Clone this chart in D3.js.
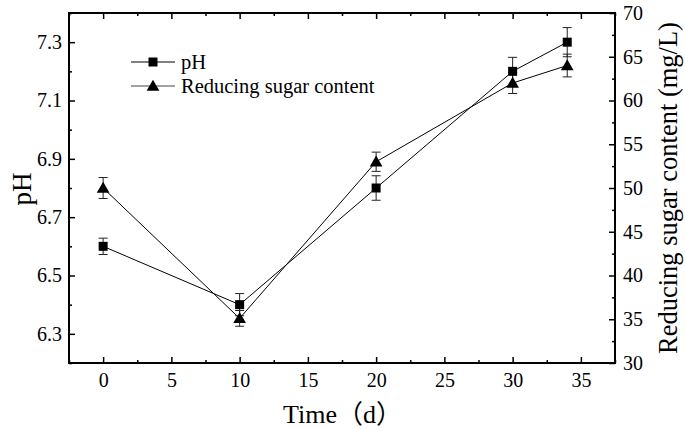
<!DOCTYPE html>
<html><head><meta charset="utf-8">
<script src="https://cdn.jsdelivr.net/npm/d3@7"></script>
<style>body{margin:0;background:#fff}svg{display:block}text{font-family:"Liberation Serif","Times New Roman",serif;fill:#000}</style>
</head><body><svg id="c" width="685" height="430"></svg>
<script>
const days = [0, 10, 20, 30, 34];
const phValues = [6.6, 6.4, 6.8, 7.2, 7.3];
const phErrors = [0.028, 0.038, 0.042, 0.048, 0.05];
const sugarValues = [50.0, 35.1, 53.0, 62.0, 64.0];
const sugarErrors = [1.2, 0.9, 1.1, 1.2, 1.3];
const xTicks = [0, 5, 10, 15, 20, 25, 30, 35];
const phTicks = [6.3, 6.5, 6.7, 6.9, 7.1, 7.3];
const sugarTicks = [30, 35, 40, 45, 50, 55, 60, 65, 70];
const seriesNames = ["pH", "Reducing sugar content"];

const svg = d3.select("#c");
const L = 69, R = 615, T = 13, B = 363;
const x = d3.scaleLinear().domain([-2.5, 37.5]).range([L, R]);
const yPh = d3.scaleLinear().domain([6.2, 7.4]).range([B, T]);
const yS = d3.scaleLinear().domain([30, 70]).range([B, T]);

const minorX = d3.range(-2.5, 37.6, 2.5).filter(v => !xTicks.includes(v));
const minorPh = d3.range(6.2, 7.41, 0.1).map(v => +v.toFixed(1)).filter(v => !phTicks.includes(v));
const minorS = d3.range(30, 70.1, 2.5).filter(v => !sugarTicks.includes(v));

const fmt1 = d3.format(".1f");
svg.append("g").attr("transform", `translate(0,${B})`)
  .call(d3.axisBottom(x).tickValues(xTicks).tickSizeInner(-6).tickSizeOuter(0).tickPadding(10));
svg.append("g").attr("transform", `translate(0,${B})`)
  .call(d3.axisBottom(x).tickValues(minorX).tickSizeInner(-3).tickSizeOuter(0).tickFormat(""));
svg.append("g").attr("transform", `translate(0,${T})`)
  .call(d3.axisTop(x).tickValues(xTicks).tickSizeInner(-6).tickSizeOuter(0).tickFormat(""));
svg.append("g").attr("transform", `translate(0,${T})`)
  .call(d3.axisTop(x).tickValues(minorX).tickSizeInner(-3).tickSizeOuter(0).tickFormat(""));
svg.append("g").attr("transform", `translate(${L},0)`)
  .call(d3.axisLeft(yPh).tickValues(phTicks).tickFormat(fmt1).tickSizeInner(-6).tickSizeOuter(0).tickPadding(7));
svg.append("g").attr("transform", `translate(${L},0)`)
  .call(d3.axisLeft(yPh).tickValues(minorPh).tickFormat("").tickSizeInner(-3).tickSizeOuter(0));
svg.append("g").attr("transform", `translate(${R},0)`)
  .call(d3.axisRight(yS).tickValues(sugarTicks).tickSizeInner(-6).tickSizeOuter(0).tickPadding(8));
svg.append("g").attr("transform", `translate(${R},0)`)
  .call(d3.axisRight(yS).tickValues(minorS).tickFormat("").tickSizeInner(-3).tickSizeOuter(0));

svg.selectAll(".domain").remove();
svg.selectAll(".tick line").attr("stroke", "#000").attr("stroke-width", 1.5);
svg.selectAll(".tick text").style("font-size", "20px").attr("fill", "#000");

svg.append("rect").attr("x", L).attr("y", T).attr("width", R - L).attr("height", B - T)
  .attr("fill", "none").attr("stroke", "#000").attr("stroke-width", 2);

const linePh = d3.line().x((d, i) => x(days[i])).y(d => yPh(d));
const lineS = d3.line().x((d, i) => x(days[i])).y(d => yS(d));
svg.append("path").attr("d", linePh(phValues)).attr("fill", "none").attr("stroke", "#000").attr("stroke-width", 1);
svg.append("path").attr("d", lineS(sugarValues)).attr("fill", "none").attr("stroke", "#000").attr("stroke-width", 1);

function errBars(vals, errs, y) {
  const g = svg.append("g").attr("stroke", "#222").attr("stroke-width", 1);
  vals.forEach((v, i) => {
    const cx = x(days[i]);
    g.append("line").attr("x1", cx).attr("x2", cx).attr("y1", y(v - errs[i])).attr("y2", y(v + errs[i]));
    [v - errs[i], v + errs[i]].forEach(e => g.append("line").attr("x1", cx - 4.5).attr("x2", cx + 4.5).attr("y1", y(e)).attr("y2", y(e)));
  });
}
errBars(phValues, phErrors, yPh);
errBars(sugarValues, sugarErrors, yS);

const sq = d3.symbol().type(d3.symbolSquare).size(81);
const tri = d3.symbol().type(d3.symbolTriangle).size(70);
svg.append("g").selectAll("path").data(phValues).join("path").attr("d", sq)
  .attr("transform", (d, i) => `translate(${x(days[i])},${yPh(d)})`).attr("fill", "#000");
svg.append("g").selectAll("path").data(sugarValues).join("path").attr("d", tri)
  .attr("transform", (d, i) => `translate(${x(days[i])},${yS(d) + 1})`).attr("fill", "#000");

const lg = svg.append("g");
[0, 1].forEach(i => {
  const cy = 62 + i * 24;
  lg.append("line").attr("x1", 131).attr("x2", 175).attr("y1", cy).attr("y2", cy).attr("stroke", i ? "#444" : "#000").attr("stroke-width", 1);
  lg.append("path").attr("d", i ? tri : sq).attr("transform", `translate(153,${cy + (i ? 1 : 0)})`).attr("fill", "#000");
  lg.append("text").attr("x", 181).attr("y", cy + 7).style("font-size", "20.5px").text(seriesNames[i]);
});

svg.append("text").attr("transform", "translate(31,189) rotate(-90)").attr("text-anchor", "middle")
  .style("font-size", "27px").text("pH");
svg.append("text").attr("x", 283).attr("y", 423).attr("text-anchor", "start")
  .style("font-size", "26px").html('Time<tspan style="font-family:\'Noto Sans CJK SC\'">（</tspan>d<tspan style="font-family:\'Noto Sans CJK SC\'">）</tspan>');
svg.append("text").attr("transform", `translate(677,188) rotate(-90)`).attr("text-anchor", "middle")
  .style("font-size", "26.5px").text("Reducing sugar content (mg/L)");
</script></body></html>
